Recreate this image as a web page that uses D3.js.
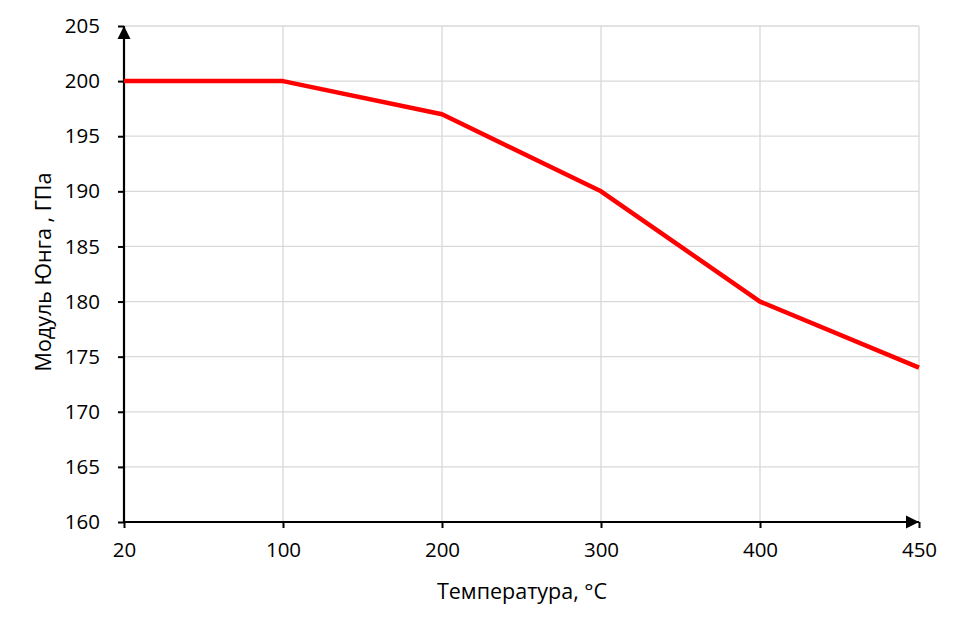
<!DOCTYPE html>
<html><head><meta charset="utf-8">
<script src="https://cdn.jsdelivr.net/npm/d3@7"></script>
<style>body{margin:0;background:#fff;} text{font-family:"Open Sans","Noto Sans",sans-serif;}</style>
</head><body>
<svg id="c" width="962" height="632"></svg>
<script>
const categories = ["20","100","200","300","400","450"];
const values = [200,200,197,190,180,174];
const yTicks = [160,165,170,175,180,185,190,195,200,205];
const xTitle = "Температура, °C";
const yTitle = "Модуль Юнга , ГПа";

const svg = d3.select("#c");
const L=124, R=919, T=26, B=522;
const x = d3.scalePoint().domain(categories).range([L,R]);
const y = d3.scaleLinear().domain([160,205]).range([B,T]);

// gridlines
svg.append("g").selectAll("line").data(yTicks.filter(d=>d>160)).join("line")
  .attr("x1",L).attr("x2",R).attr("y1",d=>y(d)).attr("y2",d=>y(d))
  .attr("stroke","#d9d9d9").attr("stroke-width",1.3);
svg.append("g").selectAll("line").data(categories.slice(1)).join("line")
  .attr("x1",d=>x(d)).attr("x2",d=>x(d)).attr("y1",T).attr("y2",B)
  .attr("stroke","#d9d9d9").attr("stroke-width",1.3);

// axes
const ya = svg.append("g").attr("transform",`translate(${L},0)`)
  .call(d3.axisLeft(y).tickValues(yTicks).tickSize(6).tickPadding(18).tickFormat(d3.format("d")));
const xa = svg.append("g").attr("transform",`translate(0,${B})`)
  .call(d3.axisBottom(x).tickSize(6).tickPadding(14));
[ya,xa].forEach(a=>{
  a.select(".domain").remove();
  a.selectAll(".tick line").attr("stroke","#000").attr("stroke-width",2);
  a.selectAll(".tick text").attr("font-size",20.5).attr("fill","#000")
    .style("font-family",'"Open Sans","Noto Sans",sans-serif');
});

// arrow marker
const defs = svg.append("defs");
defs.append("marker").attr("id","arr").attr("viewBox","0 0 10 10")
  .attr("refX",10).attr("refY",5).attr("markerWidth",6).attr("markerHeight",6)
  .attr("orient","auto").attr("markerUnits","strokeWidth")
  .append("path").attr("d","M0,0L10,5L0,10Z").attr("fill","#000");

svg.append("line").attr("x1",L).attr("y1",B+1).attr("x2",L).attr("y2",T)
  .attr("stroke","#000").attr("stroke-width",2.2).attr("marker-end","url(#arr)");
svg.append("line").attr("x1",L-1).attr("y1",B).attr("x2",R).attr("y2",B)
  .attr("stroke","#000").attr("stroke-width",2.2).attr("marker-end","url(#arr)");

// data line
const line = d3.line().x((d,i)=>x(categories[i])).y(d=>y(d));
svg.append("path").datum(values).attr("d",line).attr("fill","none")
  .attr("stroke","#ff0000").attr("stroke-width",4.5).attr("stroke-linejoin","round");

// titles
svg.append("text").attr("x",522).attr("y",599).attr("text-anchor","middle")
  .attr("font-size",21.5).attr("fill","#000").text(xTitle);
svg.append("text").attr("transform","translate(51,272) rotate(-90)").attr("text-anchor","middle")
  .attr("font-size",21.5).attr("fill","#000").text(yTitle);
</script>
</body></html>
